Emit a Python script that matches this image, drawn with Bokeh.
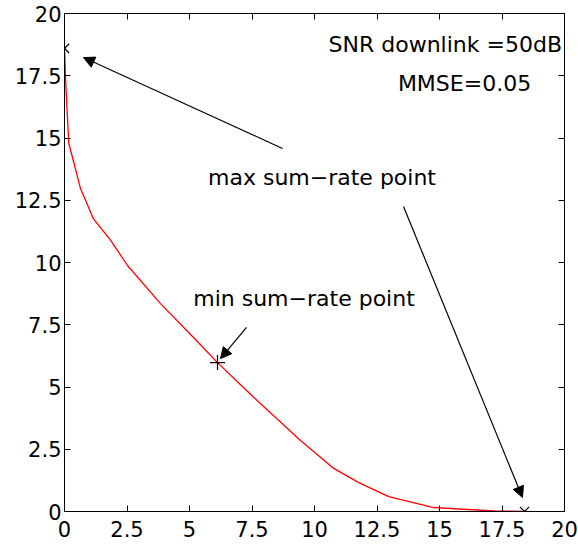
from bokeh.plotting import figure
from bokeh.models import Range1d, FixedTicker, LinearAxis, Arrow, NormalHead, ColumnDataSource
from bokeh.core.properties import value
from bokeh.embed import file_html
from bokeh.resources import INLINE

# ---- data ----
rate_x = [0, 0.05, 0.17, 0.64, 1.16, 1.84, 2.52, 3.84, 5.16, 6.12, 7.5, 9.44, 10.77, 11.77, 12.97, 14.77, 17.2, 18.4]
rate_y = [18.6, 17.2, 14.8, 12.97, 11.75, 10.9, 9.88, 8.35, 6.99, 5.98, 4.65, 2.85, 1.73, 1.16, 0.6, 0.16, 0.02, 0.0]
max_pts_x = [0, 18.4]
max_pts_y = [18.6, 0.0]
min_pt_x = [6.12]
min_pt_y = [5.98]
tick_vals = [0, 2.5, 5, 7.5, 10, 12.5, 15, 17.5, 20]
tick_labels = ["0", "2.5", "5", "7.5", "10", "12.5", "15", "17.5", "20"]

FONT = "DejaVu Sans"
FS = "21px"
FS_TXT = "22px"

p = figure(width=578, height=545, output_backend="svg", toolbar_location=None,
           x_range=Range1d(0, 20), y_range=Range1d(0, 20),
           min_border_left=64, min_border_top=13, min_border_right=14, min_border_bottom=34)
p.grid.visible = False
p.outline_line_color = "black"
p.background_fill_color = "white"
p.border_fill_color = "white"

overrides = {v: l for v, l in zip(tick_vals, tick_labels)}
for ax in (p.xaxis[0], p.yaxis[0]):
    ax.ticker = FixedTicker(ticks=tick_vals)
    ax.major_label_overrides = overrides
    ax.major_tick_in = 6
    ax.major_tick_out = 0
    ax.minor_tick_in = 0
    ax.minor_tick_out = 0
    ax.axis_line_color = "black"
    ax.major_tick_line_color = "black"
    ax.major_label_text_font = FONT
    ax.major_label_text_font_size = FS
    ax.major_label_text_color = "black"
p.xaxis[0].major_label_standoff = 9
p.yaxis[0].major_label_standoff = 3

for loc in ("above", "right"):
    ax = LinearAxis(ticker=FixedTicker(ticks=tick_vals), major_tick_in=6, major_tick_out=0,
                    minor_tick_in=0, minor_tick_out=0, major_label_text_font_size="0px",
                    major_label_text_color=None,
                    major_label_standoff=0, axis_line_color="black", major_tick_line_color="black")
    p.add_layout(ax, loc)

p.line(rate_x, rate_y, line_color="red", line_width=1.3)
p.scatter(max_pts_x, max_pts_y, marker="x", size=13, line_color="black", line_width=1.2)
p.scatter(min_pt_x, min_pt_y, marker="cross", size=15, line_color="black", line_width=1.2)

# annotations
arrows = [
    (8.72, 14.58, 0.76, 18.23),
    (13.56, 12.25, 18.32, 0.56),
    (7.28, 7.39, 6.24, 6.14),
]
for xs, ys, xe, ye in arrows:
    p.add_layout(Arrow(end=NormalHead(size=11, fill_color="black", line_color="black"),
                       x_start=xs, y_start=ys, x_end=xe, y_end=ye,
                       line_color="black", line_width=1.2))

txt = ColumnDataSource(dict(x=[16.0, 10.3, 9.58], y=[17.2, 13.41, 8.55],
                            t=["MMSE=0.05", "max sum\u2212rate point", "min sum\u2212rate point"]))
p.text(x="x", y="y", text="t", source=txt, text_font=value(FONT), text_font_size=FS_TXT,
       text_align="center", text_baseline="middle", text_color="black")
p.text(x=[19.9], y=[18.75], text=["SNR downlink =50dB"], text_font=value(FONT), text_font_size=FS_TXT,
       text_align="right", text_baseline="middle", text_color="black")

open("out.html", "w").write(file_html(p, INLINE))
